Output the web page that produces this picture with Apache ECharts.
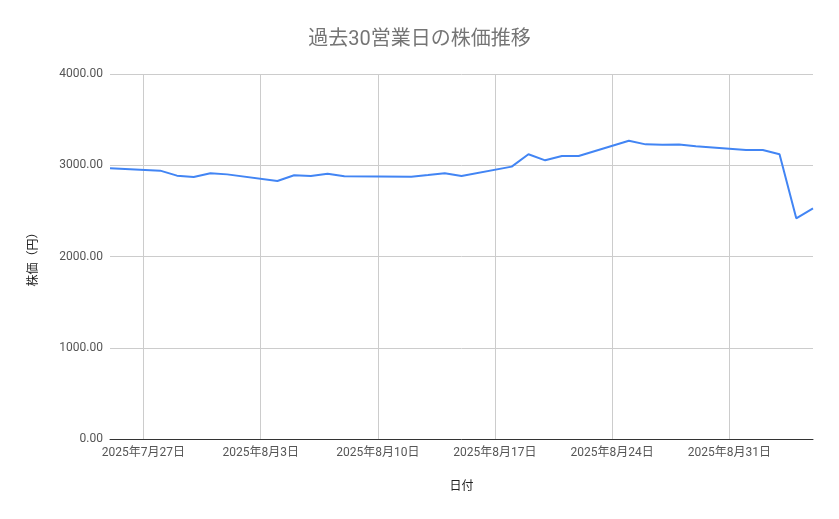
<!DOCTYPE html>
<html>
<head>
<meta charset="utf-8">
<script src="https://cdn.jsdelivr.net/npm/echarts@6/dist/echarts.min.js"></script>
<style>
    html, body { margin: 0; padding: 0; background: #fff; }
    #chart { width: 839px; height: 519px; }
</style>
</head>
<body>
<div id="chart"></div>
<script>
    // 営業日（8/11 山の日は休場）
    var dates = [
        '2025-07-25',
        '2025-07-28', '2025-07-29', '2025-07-30', '2025-07-31', '2025-08-01',
        '2025-08-04', '2025-08-05', '2025-08-06', '2025-08-07', '2025-08-08',
        '2025-08-12', '2025-08-13', '2025-08-14', '2025-08-15',
        '2025-08-18', '2025-08-19', '2025-08-20', '2025-08-21', '2025-08-22',
        '2025-08-25', '2025-08-26', '2025-08-27', '2025-08-28', '2025-08-29',
        '2025-09-01', '2025-09-02', '2025-09-03', '2025-09-04', '2025-09-05'
    ];
    var prices = [
        2966,
        2941, 2886, 2871, 2912, 2900,
        2827, 2890, 2882, 2908, 2879,
        2875, 2893, 2912, 2882,
        2985, 3120, 3054, 3101, 3101,
        3269, 3229, 3225, 3227, 3207,
        3167, 3167, 3120, 2418, 2528
    ];
    var tickDates = ['2025-07-27', '2025-08-03', '2025-08-10', '2025-08-17', '2025-08-24', '2025-08-31'];
    var yTicks = [0, 1000, 2000, 3000, 4000];

    var DAY = 86400000;
    function toTime(s) {
        var p = s.split('-');
        return Date.UTC(+p[0], +p[1] - 1, +p[2]);
    }
    var t0 = toTime(dates[0]);
    // days since the first date
    function toDay(s) {
        return Math.round((toTime(s) - t0) / DAY);
    }

    var font = 'Roboto, "Noto Sans CJK JP", sans-serif';
    var tickDays = tickDates.map(toDay);

    var chart = echarts.init(document.getElementById('chart'));
    chart.setOption({
        animation: false,
        title: {
            text: '過去30営業日の株価推移',
            left: 'center',
            top: 25,
            textStyle: { fontFamily: font, fontSize: 20, fontWeight: 'normal', color: '#757575' }
        },
        grid: { left: 110, right: 26, top: 74, bottom: 80 },
        xAxis: {
            type: 'value',
            min: 0,
            max: toDay(dates[dates.length - 1]),
            name: '日付',
            nameLocation: 'middle',
            nameGap: 42,
            nameTextStyle: { fontFamily: font, fontSize: 12, color: '#222' },
            axisLine: { lineStyle: { color: '#333', width: 1 } },
            axisTick: { show: false, customValues: tickDays },
            axisLabel: {
                customValues: tickDays,
                fontFamily: font, fontSize: 12, color: '#555', margin: 8,
                formatter: function (v) {
                    var d = new Date(t0 + v * DAY);
                    return d.getUTCFullYear() + '年' + (d.getUTCMonth() + 1) + '月' + d.getUTCDate() + '日';
                }
            },
            splitLine: { show: true, lineStyle: { color: '#ccc', width: 1 } }
        },
        yAxis: {
            type: 'value',
            min: yTicks[0],
            max: yTicks[yTicks.length - 1],
            interval: 1000,
            name: '株価（円）',
            nameLocation: 'middle',
            nameGap: 70,
            nameTextStyle: { fontFamily: font, fontSize: 12, color: '#222' },
            axisLine: { show: false },
            axisTick: { show: false },
            axisLabel: {
                fontFamily: font, fontSize: 12, color: '#555', margin: 7,
                formatter: function (v) { return v.toFixed(2); }
            },
            splitLine: { lineStyle: { color: '#ccc', width: 1 } }
        },
        series: [{
            type: 'line',
            data: dates.map(function (d, i) { return [toDay(d), prices[i]]; }),
            showSymbol: false,
            lineStyle: { color: '#4285f4', width: 2 },
            itemStyle: { color: '#4285f4' }
        }]
    });
</script>
</body>
</html>
